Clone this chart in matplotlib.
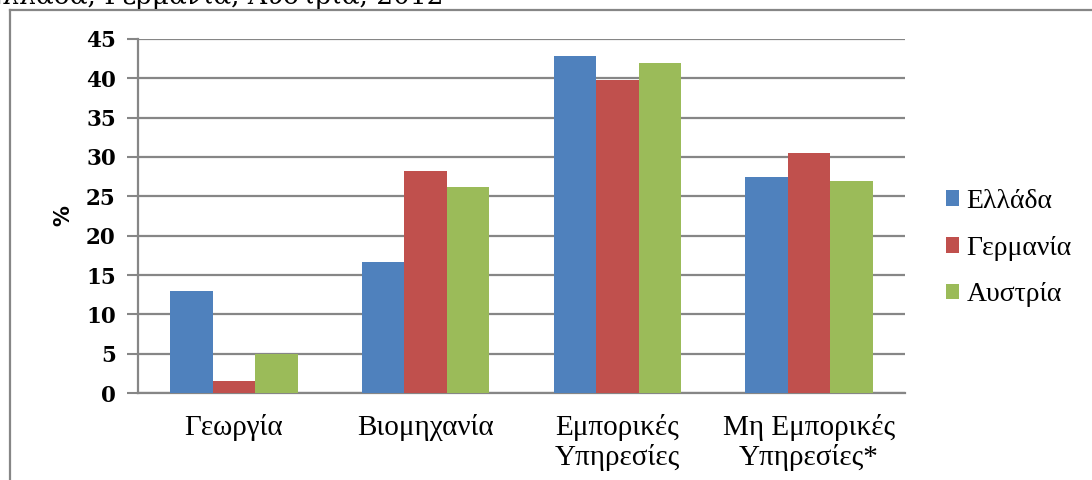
import matplotlib
matplotlib.use("Agg")
import matplotlib.pyplot as plt
from matplotlib.lines import Line2D
import numpy as np

categories = ["Γεωργία", "Βιομηχανία", "Εμπορικές\nΥπηρεσίες", "Μη Εμπορικές\nΥπηρεσίες*"]
series_names = ["Ελλάδα", "Γερμανία", "Αυστρία"]
greece = [13.0, 16.7, 42.9, 27.5]
germany = [1.5, 28.2, 39.8, 30.5]
austria = [5.0, 26.2, 42.0, 27.0]
yticks = [0, 5, 10, 15, 20, 25, 30, 35, 40, 45]
title = "Ελλάδα, Γερμανία, Αυστρία, 2012"

colors = ["#4f81bd", "#c0504d", "#9bbb59"]
W, H = 1092, 480
fig = plt.figure(figsize=(W / 100, H / 100), dpi=100)
ax = fig.add_axes([138 / W, 1 - 393 / H, (905 - 138) / W, (393 - 39) / H])

x = np.arange(len(categories))
bw = 0.222
for i, (vals, name) in enumerate(zip([greece, germany, austria], series_names)):
    ax.bar(x + (i - 1) * bw, vals, bw, color=colors[i], label=name, zorder=3,
           edgecolor="none")

ax.set_xlim(-0.5, len(categories) - 0.5)
ax.set_ylim(0, 45)
ax.set_yticks(yticks)
ax.set_yticklabels([str(t) for t in yticks], fontfamily="DejaVu Serif",
                   fontweight="bold", fontsize=15.5)
ax.set_xticks(x)
ax.set_xticklabels(categories, fontfamily="Liberation Serif", fontsize=21,
                   linespacing=1.15)
ax.tick_params(axis="x", length=0, pad=15)
ax.tick_params(axis="y", length=8, width=1.5, color="#868686", pad=8)
ax.yaxis.grid(True, color="#868686", linewidth=1.6, zorder=0)
ax.set_axisbelow(True)
for s in ["top", "right"]:
    ax.spines[s].set_visible(False)
for s in ["left", "bottom"]:
    ax.spines[s].set_color("#868686")
    ax.spines[s].set_linewidth(1.6)
ax.set_ylabel("%", fontfamily="DejaVu Sans", fontweight="bold", fontsize=15,
              labelpad=9)

leg = fig.legend(loc="upper left", bbox_to_anchor=(946 / W, 1 - 189 / H),
                 frameon=False, prop={"family": "Liberation Serif", "size": 20},
                 handlelength=0.48, handleheight=0.48, handletextpad=0.25,
                 labelspacing=0.78, borderpad=0, borderaxespad=0)

# chart frame
fig.add_artist(Line2D([10 / W, 10 / W], [0, 1 - 10 / H], transform=fig.transFigure,
                      color="#868686", linewidth=1.6))
fig.add_artist(Line2D([10 / W, 1], [1 - 10 / H, 1 - 10 / H], transform=fig.transFigure,
                      color="#868686", linewidth=1.6))
# title (cut off at the top edge, as in the reference)
fig.text(-17 / W, 1 - 4 / H, title, fontfamily="DejaVu Serif", fontsize=19,
         ha="left", va="baseline")

fig.savefig("out.png", dpi=100)
